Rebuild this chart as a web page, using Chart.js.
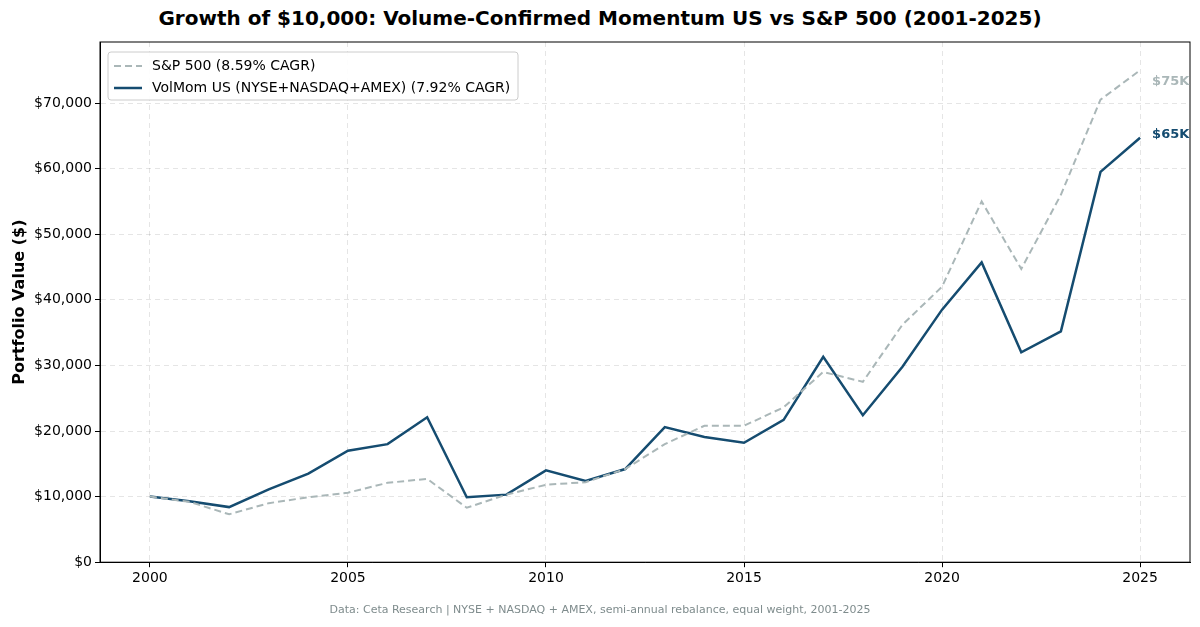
<!DOCTYPE html>
<html><head><meta charset="utf-8">
<script src="https://cdn.jsdelivr.net/npm/chart.js@4"></script>
<style>body{margin:0;background:#fff;font-family:"DejaVu Sans",sans-serif}#w{position:relative;width:1200px;height:627px}
#t{position:absolute;top:6px;width:1200px;text-align:center;font-weight:bold;font-size:20px}
#f{position:absolute;top:603px;width:1200px;text-align:center;font-size:11px;color:#7f8c8d}
#c{position:absolute;left:0;top:0}</style></head><body>
<div id="w"><div id="t">Growth of $10,000: Volume-Confirmed Momentum US vs S&amp;P 500 (2001-2025)</div>
<canvas id="c" width="1200" height="627"></canvas>
<div id="f">Data: Ceta Research | NYSE + NASDAQ + AMEX, semi-annual rebalance, equal weight, 2001-2025</div></div>
<script>
const years=[2000,2001,2002,2003,2004,2005,2006,2007,2008,2009,2010,2011,2012,2013,2014,2015,2016,2017,2018,2019,2020,2021,2022,2023,2024,2025];
const sp500=[10000,9200,7300,9000,9900,10600,12100,12700,8300,10300,11800,12200,14200,18000,20800,20800,23600,29000,27500,36200,42000,55000,44700,56000,70500,75000];
const volmom=[10000,9300,8400,11100,13500,17000,18000,22100,9900,10300,14000,12400,14200,20600,19100,18200,21700,31300,22400,29800,38500,45700,32000,35200,59500,64700];
const xTicks=[2000,2005,2010,2015,2020,2025];
const labels=['S&P 500 (8.59% CAGR)','VolMom US (NYSE+NASDAQ+AMEX) (7.92% CAGR)'];
const endLabels=['$75K','$65K'];
const cols=['#aab7b8','#154c70'];
const plug={id:'p',afterDraw(ch){const c=ch.ctx,a=ch.chartArea;
c.save();c.strokeStyle='#000';c.lineWidth=1;c.strokeRect(a.left,a.top,a.right-a.left,a.bottom-a.top);
c.font='bold 13px "DejaVu Sans"';c.textBaseline='middle';
const off=[11,-3];
ch.data.datasets.forEach((d,i)=>{const p=ch.getDatasetMeta(i).data.at(-1);c.fillStyle=cols[i];c.fillText(endLabels[i],p.x+12,p.y+off[i]);});
const lx=a.left+8,ly=a.top+10;c.fillStyle='rgba(255,255,255,0.9)';c.strokeStyle='#ccc';c.beginPath();c.roundRect(lx,ly,410,48,3);c.fill();c.stroke();
c.font='14px "DejaVu Sans"';
labels.forEach((l,i)=>{const y=ly+14+i*22;c.strokeStyle=cols[i];c.lineWidth=i?2.5:2;c.setLineDash(i?[]:[7,4]);c.beginPath();c.moveTo(lx+6,y);c.lineTo(lx+34,y);c.stroke();c.setLineDash([]);c.fillStyle='#000';c.fillText(l,lx+44,y);});
c.restore();}};
const g={color:'rgba(0,0,0,0.1)',tickColor:'#000',tickLength:5};
const b={dash:[5,4],color:'#000'};
new Chart(document.getElementById('c'),{type:'line',data:{datasets:[
{data:years.map((x,i)=>({x,y:sp500[i]})),borderColor:cols[0],borderWidth:2,borderDash:[7,4],pointRadius:0,tension:0},
{data:years.map((x,i)=>({x,y:volmom[i]})),borderColor:cols[1],borderWidth:2.5,pointRadius:0,tension:0}]},
options:{responsive:false,animation:false,layout:{padding:{left:6,right:10,top:42,bottom:37}},plugins:{legend:{display:false},tooltip:{enabled:false}},
scales:{x:{type:'linear',min:1998.74,max:2026.26,afterBuildTicks:s=>{s.ticks=xTicks.map(v=>({value:v}))},
ticks:{color:'#000',font:{size:14,family:'DejaVu Sans'},callback:v=>String(v)},grid:g,border:b},
y:{min:0,max:79300,afterFit:s=>{s.width=94},afterBuildTicks:s=>{s.ticks=[0,10000,20000,30000,40000,50000,60000,70000].map(v=>({value:v}))},
ticks:{color:'#000',font:{size:14,family:'DejaVu Sans'},callback:v=>'$'+v.toLocaleString('en-US')},grid:g,border:b,
title:{display:true,text:'Portfolio Value ($)',font:{size:16,weight:'bold',family:'DejaVu Sans'},color:'#000'}}}},plugins:[plug]});
</script></body></html>
